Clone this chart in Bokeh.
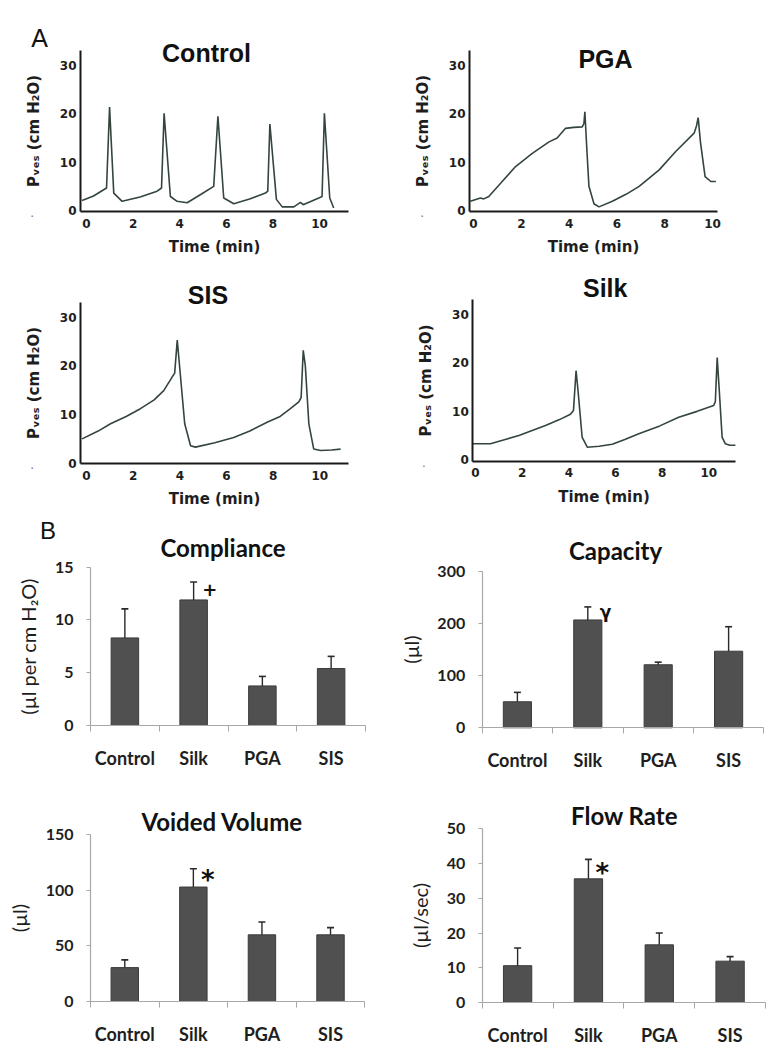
from bokeh.plotting import figure
from bokeh.layouts import column, row
from bokeh.models import FixedTicker, Label, Range1d
from bokeh.embed import file_html
from bokeh.resources import INLINE

# ---------------- data ----------------
time_ticks = [0, 2, 4, 6, 8, 10]
pressure_ticks = [0, 10, 20, 30]

control_time = [-0.19, 0.3, 0.86, 0.99, 1.17, 1.53, 2.3, 3.03, 3.22, 3.33, 3.6, 3.89, 4.32, 4.9, 5.46, 5.64,
                5.89, 6.32, 7.0, 7.68, 7.78, 7.87, 8.15, 8.4, 8.9, 9.18, 9.3, 9.97, 10.11, 10.21, 10.44, 10.61]
control_pressure = [2.05, 3.0, 4.66, 21.4, 3.6, 1.9, 2.8, 4.0, 4.66, 20.1, 2.9, 1.9, 1.6, 3.3, 5.0, 19.5,
                    2.6, 1.4, 2.4, 3.6, 4.0, 17.9, 2.3, 0.75, 0.75, 1.7, 1.2, 2.6, 2.9, 20.1, 2.6, 0.5]

pga_time = [-0.13, 0.29, 0.43, 0.64, 1.2, 1.76, 2.46, 3.16, 3.5, 3.85, 4.2, 4.55, 4.62, 4.66, 4.75,
            4.83, 5.04, 5.25, 5.81, 6.4, 6.93, 7.77, 8.46, 9.23, 9.33, 9.4, 9.5, 9.69, 9.93, 10.14]
pga_pressure = [1.9, 2.6, 2.4, 2.9, 6.0, 9.1, 11.8, 14.2, 15.0, 17.0, 17.2, 17.3, 18.0, 20.4, 12.0,
                5.0, 1.4, 0.75, 1.9, 3.4, 5.0, 8.4, 12.2, 16.0, 17.5, 19.2, 14.0, 7.0, 6.0, 6.0]

sis_time = [-0.19, 0.5, 1.03, 1.7, 2.31, 2.9, 3.31, 3.67, 3.78, 3.89, 3.97, 4.21, 4.46, 4.67, 5.5,
            6.31, 7.0, 7.74, 8.3, 8.74, 9.1, 9.2, 9.29, 9.38, 9.53, 9.74, 10.03, 10.5, 10.89]
sis_pressure = [5.0, 6.6, 8.1, 9.6, 11.2, 13.0, 14.9, 17.7, 18.5, 25.3, 21.0, 8.1, 3.6, 3.3, 4.2,
                5.3, 6.6, 8.4, 9.6, 11.2, 12.6, 13.5, 23.2, 20.0, 8.1, 2.9, 2.6, 2.7, 2.9]

silk_time = [-0.11, 0.64, 1.2, 1.86, 2.4, 3.0, 3.6, 4.07, 4.2, 4.31, 4.4, 4.57, 4.79, 5.3, 5.86,
             6.4, 7.0, 7.9, 8.71, 9.5, 10.21, 10.28, 10.36, 10.44, 10.57, 10.71, 10.9, 11.14]
silk_pressure = [3.3, 3.3, 4.1, 5.0, 6.0, 7.1, 8.3, 9.4, 10.2, 18.4, 14.0, 4.7, 2.6, 2.8, 3.2,
                 4.2, 5.4, 7.0, 8.8, 10.0, 11.2, 12.0, 21.1, 15.0, 4.7, 3.3, 3.0, 3.0]

categories = ["Control", "Silk", "PGA", "SIS"]

compliance_mean = [8.3, 11.9, 3.75, 5.4]
compliance_err = [2.75, 1.7, 0.9, 1.15]
compliance_ticks = [0, 5, 10, 15]

capacity_mean = [50, 207, 121, 147]
capacity_err = [18, 25, 5, 47]
capacity_ticks = [0, 100, 200, 300]

voided_mean = [30.5, 103, 60, 60]
voided_err = [7, 16.5, 11.5, 6.5]
voided_ticks = [0, 50, 100, 150]

flow_mean = [10.6, 35.6, 16.6, 11.9]
flow_err = [5.1, 5.6, 3.4, 1.3]
flow_ticks = [0, 10, 20, 30, 40, 50]

# ---------------- styling ----------------
TRACE_COLOR = "#34453c"
BAR_COLOR = "#505050"
AXIS_GREY = "#a8a8a8"
TXT = "#1e1e1e"


class Geo:
    """Maps page pixels of one panel to its data coordinates (layout only)."""

    def __init__(self, box, xcal, ycal):
        self.fx, self.fy, self.w, self.h = box
        (self.xa, self.pxa), (xb, pxb) = xcal
        (self.ya, self.pya), (yb, pyb) = ycal
        self.sx = (pxb - self.pxa) / (xb - self.xa)
        self.sy = (self.pya - pyb) / (yb - self.ya)

    def X(self, px):
        return self.xa + (px - self.pxa) / self.sx

    def Y(self, py):
        return self.ya + (self.pya - py) / self.sy


def base_fig(g):
    f = figure(width=g.w, height=g.h,
               x_range=Range1d(g.X(g.fx), g.X(g.fx + g.w)),
               y_range=Range1d(g.Y(g.fy + g.h), g.Y(g.fy)),
               output_backend="svg", toolbar_location=None, min_border=0)
    f.title.visible = False
    f.xgrid.visible = False
    f.ygrid.visible = False
    f.outline_line_color = None
    f.background_fill_color = "white"
    f.border_fill_color = "white"
    return f


def add_text(f, g, px, py, text, font, size, style="bold", color="#111111", baseline="middle"):
    f.add_layout(Label(x=g.X(px), y=g.Y(py), text=text, text_align="center", text_baseline=baseline,
                       text_font=font, text_font_style=style, text_font_size=size, text_color=color))


def trace_panel(g, t, pv, title, yaxis_px, xaxis_py, xend_px, ytop_py, title_px, dot_px):
    f = base_fig(g)
    f.line(t, pv, line_color=TRACE_COLOR, line_width=1.6)
    for ax in (f.xaxis[0], f.yaxis[0]):
        ax.axis_line_color = "#1a1a1a"
        ax.axis_line_width = 2
        ax.major_tick_line_color = None
        ax.minor_tick_line_color = None
        ax.major_tick_out = 0
        ax.major_tick_in = 0
        ax.major_label_text_font = "DejaVu Sans"
        ax.major_label_text_font_style = "bold"
        ax.major_label_text_font_size = "12px"
        ax.major_label_text_color = TXT
        ax.axis_label_text_font = "DejaVu Sans"
        ax.axis_label_text_font_style = "bold"
        ax.axis_label_text_font_size = "15px"
        ax.axis_label_text_color = TXT
    f.yaxis.fixed_location = g.X(yaxis_px)
    f.xaxis.fixed_location = g.Y(xaxis_py)
    f.yaxis.bounds = (g.Y(xaxis_py), g.Y(ytop_py))
    f.xaxis.bounds = (g.X(yaxis_px), g.X(xend_px))
    f.xaxis.ticker = FixedTicker(ticks=time_ticks)
    f.yaxis.ticker = FixedTicker(ticks=pressure_ticks)
    f.xaxis.major_label_standoff = 7
    f.yaxis.major_label_standoff = 4
    f.xaxis.axis_label = "Time (min)"
    f.xaxis.axis_label_standoff = 7
    f.yaxis.axis_label = "Pᵥₑₛ (cm H₂O)"
    f.yaxis.axis_label_standoff = 14
    add_text(f, g, title_px[0], title_px[1], title, "Liberation Sans", "25px")
    add_text(f, g, dot_px[0], dot_px[1], ".", "DejaVu Sans", "12px", style="normal", color="#777777",
             baseline="alphabetic")
    return f


def bar_panel(g, title, means, errs, yticks, ylabel, ymax, xaxis_end_px, title_px, mark, mark_px, mark_size):
    f = base_fig(g)
    n = len(categories)
    xs = [i + 0.5 for i in range(n)]
    upper = [m + e for m, e in zip(means, errs)]
    f.vbar(x=xs, top=means, bottom=0, width=0.4, fill_color=BAR_COLOR, line_color="#3c3c3c", line_width=1)
    f.segment(x0=xs, y0=means, x1=xs, y1=upper, line_color="#2a2a2a", line_width=1.4)
    f.scatter(x=xs, y=upper, marker="dash", size=7, line_color="#2a2a2a", line_width=1.6)
    for ax in (f.xaxis[0], f.yaxis[0]):
        ax.axis_line_color = AXIS_GREY
        ax.axis_line_width = 1.2
        ax.major_label_text_font = "Lato"
        ax.major_label_text_font_style = "bold"
        ax.major_label_text_color = TXT
    f.yaxis.fixed_location = 0
    f.xaxis.fixed_location = 0
    f.yaxis.bounds = (0, ymax)
    f.xaxis.bounds = (0, min(n, g.X(xaxis_end_px)))
    # x: labels at category centres, tick marks at category boundaries
    f.xaxis.ticker = FixedTicker(ticks=xs, minor_ticks=list(range(n + 1)))
    f.xaxis.major_label_overrides = {x: c for x, c in zip(xs, categories)}
    f.xaxis.major_tick_line_color = None
    f.xaxis.major_tick_out = 0
    f.xaxis.major_tick_in = 0
    f.xaxis.minor_tick_line_color = AXIS_GREY
    f.xaxis.minor_tick_in = 0
    f.xaxis.minor_tick_out = 6
    f.xaxis.major_label_text_font_size = "18px"
    f.xaxis.major_label_standoff = 15
    # y
    f.yaxis.ticker = FixedTicker(ticks=yticks)
    f.yaxis.minor_tick_line_color = None
    f.yaxis.major_tick_line_color = AXIS_GREY
    f.yaxis.major_tick_in = 0
    f.yaxis.major_tick_out = 4
    f.yaxis.major_label_text_font_size = "16px"
    f.yaxis.major_label_standoff = 13
    f.yaxis.axis_label = ylabel
    f.yaxis.axis_label_text_font = "Lato"
    f.yaxis.axis_label_text_font_style = "normal"
    f.yaxis.axis_label_text_font_size = "20px"
    f.yaxis.axis_label_text_color = TXT
    f.yaxis.axis_label_standoff = 12
    add_text(f, g, title_px[0], title_px[1], title, "Lato", "24px")
    add_text(f, g, mark_px[0], mark_px[1], mark, "DejaVu Sans", mark_size)
    return f


# ---------------- panels (page-pixel calibration of each panel) ----------------
g_control = Geo((0, 0, 385, 270), ((0, 86), (10, 319)), ((0, 210), (30, 65)))
p_control = trace_panel(g_control, control_time, control_pressure, "Control", 80, 211, 348, 50,
                        (206, 52.5), (31.7, 212))
add_text(p_control, g_control, 39, 37, "A", "Liberation Sans", "25px", style="normal")

g_pga = Geo((385, 0, 385, 270), ((0, 473), (10, 712)), ((0, 210), (30, 65)))
p_pga = trace_panel(g_pga, pga_time, pga_pressure, "PGA", 469, 211, 717, 50, (605, 58), (421.7, 212))

g_sis = Geo((0, 270, 385, 237), ((0, 86), (10, 319.3)), ((0, 462.7), (30, 316.7)))
p_sis = trace_panel(g_sis, sis_time, sis_pressure, "SIS", 80, 463, 347.7, 301.7, (207.5, 294), (31.7, 464))

g_silk = Geo((385, 270, 385, 237), ((0, 475), (10, 708.3)), ((0, 459.3), (30, 314)))
p_silk = trace_panel(g_silk, silk_time, silk_pressure, "Silk", 472.3, 460.7, 735, 299.3, (604.7, 287),
                     (423.3, 462))

g_comp = Geo((0, 507, 385, 283), ((0, 90), (4, 365)), ((0, 725), (15, 566.7)))
p_comp = bar_panel(g_comp, "Compliance", compliance_mean, compliance_err, compliance_ticks,
                   "(µl per cm H₂O)", 15, 365, (222.5, 547), "+", (209.3, 589.3), "18px")
add_text(p_comp, g_comp, 47.5, 529.5, "B", "Liberation Sans", "24px", style="normal", baseline="alphabetic")

g_cap = Geo((385, 507, 385, 283), ((0, 481.7), (4, 763.3)), ((0, 727.3), (300, 571)))
p_cap = bar_panel(g_cap, "Capacity", capacity_mean, capacity_err, capacity_ticks,
                  "(µl)", 300, 763.3, (615, 550), "γ", (605, 611), "17px")

g_void = Geo((0, 790, 385, 260), ((0, 90), (4, 364.3)), ((0, 1001), (150, 834.3)))
p_void = bar_panel(g_void, "Voided Volume", voided_mean, voided_err, voided_ticks,
                   "(µl)", 150, 364.3, (221.7, 821), "*", (207.3, 879), "26px")

g_flow = Geo((385, 790, 385, 260), ((0, 481.7), (4, 765)), ((0, 1002), (50, 828.3)))
p_flow = bar_panel(g_flow, "Flow Rate", flow_mean, flow_err, flow_ticks,
                   "(µl/sec)", 50, 765, (624, 815), "*", (601.7, 872), "26px")

layout = column(row(p_control, p_pga), row(p_sis, p_silk), row(p_comp, p_cap), row(p_void, p_flow))

open("out.html", "w").write(file_html(layout, INLINE))
